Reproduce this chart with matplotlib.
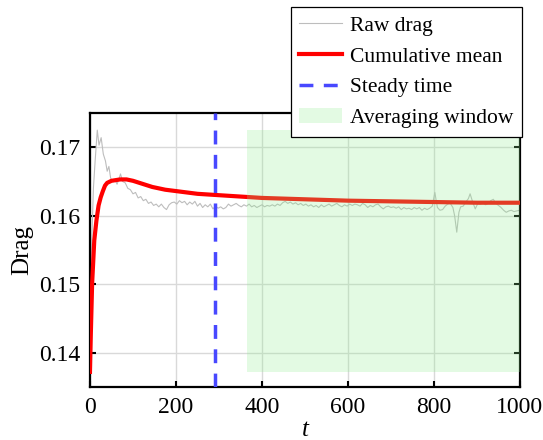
import matplotlib
matplotlib.use("Agg")
import matplotlib.pyplot as plt
from matplotlib.patches import Rectangle

plt.rcParams['font.family'] = ['Liberation Serif', 'DejaVu Serif']

# Raw drag signal
t_raw = [0, 4, 8, 12, 17, 21, 26, 31, 36, 40, 44, 48, 53, 58, 63, 68, 71, 76, 82, 88,
         94, 100, 106, 112, 118, 124, 130, 136, 142, 148, 154, 160, 166, 172, 178, 184,
         190, 196, 202, 208, 214, 220, 226, 232, 238, 244, 250, 256, 262, 268, 274, 280,
         286, 292, 298, 304, 310, 316, 322, 328, 334, 340, 346, 352, 358, 364, 370, 376,
         382, 388, 394, 400, 406, 412, 418, 424, 430, 436, 442, 448, 454, 460, 466, 472,
         478, 484, 490, 496, 502, 508, 514, 520, 526, 532, 538, 544, 550, 556, 562, 568,
         574, 580, 586, 592, 598, 604, 610, 616, 622, 628, 634, 640, 646, 652, 658, 664,
         670, 676, 682, 688, 694, 700, 706, 712, 718, 724, 730, 736, 742, 748, 754, 760,
         766, 772, 778, 784, 790, 796, 802, 808, 814, 820, 826, 832, 838, 844, 848, 853,
         858, 862, 868, 874, 880, 884, 890, 896, 902, 908, 914, 920, 926, 932, 938, 944,
         950, 956, 962, 968, 974, 980, 986, 992, 1000]
drag_raw = [0.1372, 0.1560, 0.1640, 0.1680, 0.1725, 0.1703, 0.1714, 0.1690, 0.1680, 0.1665,
            0.1672, 0.1655, 0.1650, 0.1653, 0.1646, 0.1655, 0.1661, 0.1650, 0.1648, 0.1640,
            0.1638, 0.1632, 0.1634, 0.1626, 0.1628, 0.1622, 0.1624, 0.1618, 0.1620, 0.1615,
            0.1617, 0.1613, 0.1617, 0.1612, 0.1609, 0.1616, 0.1619, 0.1620, 0.1617, 0.1622,
            0.1619, 0.1621, 0.1616, 0.1620, 0.1617, 0.1621, 0.1614, 0.1618, 0.1612, 0.1616,
            0.1613, 0.1617, 0.1610, 0.1614, 0.1611, 0.1613, 0.1610, 0.1612, 0.1617, 0.1614,
            0.1616, 0.1618, 0.1615, 0.1613, 0.1616, 0.1614, 0.1617, 0.1613, 0.1615, 0.1612,
            0.1614, 0.1616, 0.1613, 0.1615, 0.1614, 0.1616, 0.1614, 0.1617, 0.1615, 0.1619,
            0.1621, 0.1618, 0.1620, 0.1617, 0.1619, 0.1616, 0.1618, 0.1615, 0.1617, 0.1614,
            0.1616, 0.1613, 0.1615, 0.1612, 0.1616, 0.1613, 0.1615, 0.1617, 0.1614, 0.1616,
            0.1618, 0.1615, 0.1613, 0.1616, 0.1614, 0.1617, 0.1615, 0.1617, 0.1616, 0.1614,
            0.1618, 0.1616, 0.1612, 0.1615, 0.1613, 0.1616, 0.1617, 0.1613, 0.1610, 0.1613,
            0.1614, 0.1612, 0.1613, 0.1611, 0.1613, 0.1609, 0.1612, 0.1610, 0.1611, 0.1609,
            0.1612, 0.1610, 0.1612, 0.1608, 0.1611, 0.1609, 0.1611, 0.1614, 0.1634, 0.1612,
            0.1608, 0.1609, 0.1614, 0.1617, 0.1618, 0.1612, 0.1600, 0.1576, 0.1605, 0.1613,
            0.1614, 0.1620, 0.1625, 0.1632, 0.1620, 0.1610, 0.1618, 0.1617, 0.1619, 0.1616,
            0.1618, 0.1622, 0.1624, 0.1618, 0.1615, 0.1612, 0.1608, 0.1605, 0.1607, 0.1608,
            0.1606, 0.1607, 0.1608]

# Cumulative mean
t_mean = [0, 2, 5, 10, 15, 20, 25, 30, 35, 40, 50, 60, 70, 85, 100, 115, 130, 145, 160,
          175, 200, 225, 250, 275, 300, 350, 400, 500, 600, 700, 800, 900, 1000]
drag_mean = [0.1372, 0.1428, 0.1501, 0.1564, 0.1593, 0.1615, 0.1627, 0.1636, 0.1644, 0.1648,
             0.1651, 0.1652, 0.1653, 0.1653, 0.1651, 0.1648, 0.1645, 0.1642, 0.1640,
             0.1638, 0.1636, 0.1634, 0.1632, 0.1631, 0.1630, 0.1628, 0.1626, 0.1624,
             0.1622, 0.1621, 0.1620, 0.1619, 0.1619]

steady_time = 291
window_start = 365
window_end = 1000
window_low = 0.1372
window_high = 0.1725

xticks = [0, 200, 400, 600, 800, 1000]
yticks = [0.14, 0.15, 0.16, 0.17]

fig = plt.figure(figsize=(5.43, 4.4), dpi=100)
ax = fig.add_axes([0.1657, 0.1205, 0.7919, 0.6227])

ax.grid(True, color='#d9d9d9', linewidth=1.0, zorder=0)
ax.set_axisbelow(True)

l_raw, = ax.plot(t_raw, drag_raw, color='#bdbdbd', linewidth=0.8, label='Raw drag', zorder=2)
l_mean, = ax.plot(t_mean, drag_mean, color='red', linewidth=3.0, label='Cumulative mean', zorder=3)
l_steady = ax.axvline(steady_time, color='#4848ff', linewidth=2.5, linestyle=(0, (4, 3)),
                      label='Steady time', zorder=3)
rect = Rectangle((window_start, window_low), window_end - window_start, window_high - window_low,
                 facecolor='#90ee90', alpha=0.25, edgecolor='none', label='Averaging window', zorder=4)
ax.add_patch(rect)

ax.set_xlim(0, 1000)
ax.set_ylim(0.135, 0.175)
ax.set_xticks(xticks)
ax.set_yticks(yticks)
ax.set_xticklabels([str(v) for v in xticks])
ax.set_yticklabels([f'{v:.2f}' for v in yticks])
ax.tick_params(direction='in', right=True, top=False, length=4, width=1.5,
               labelsize=17, pad=7)
for s in ax.spines.values():
    s.set_linewidth(1.6)

ax.set_xlabel('t', fontsize=18, fontstyle='italic', labelpad=1)
ax.set_ylabel('Drag', fontsize=18, labelpad=4)

leg = fig.legend(handles=[l_raw, l_mean, l_steady, rect], loc='upper right',
                 bbox_to_anchor=(0.9613, 0.984), borderaxespad=0, fontsize=15.5,
                 fancybox=False, framealpha=1, edgecolor='black', handlelength=2.0,
                 handletextpad=0.35, labelspacing=0.5, borderpad=0.4)
leg.get_frame().set_linewidth(0.9)

fig.savefig('out.png', dpi=100)
